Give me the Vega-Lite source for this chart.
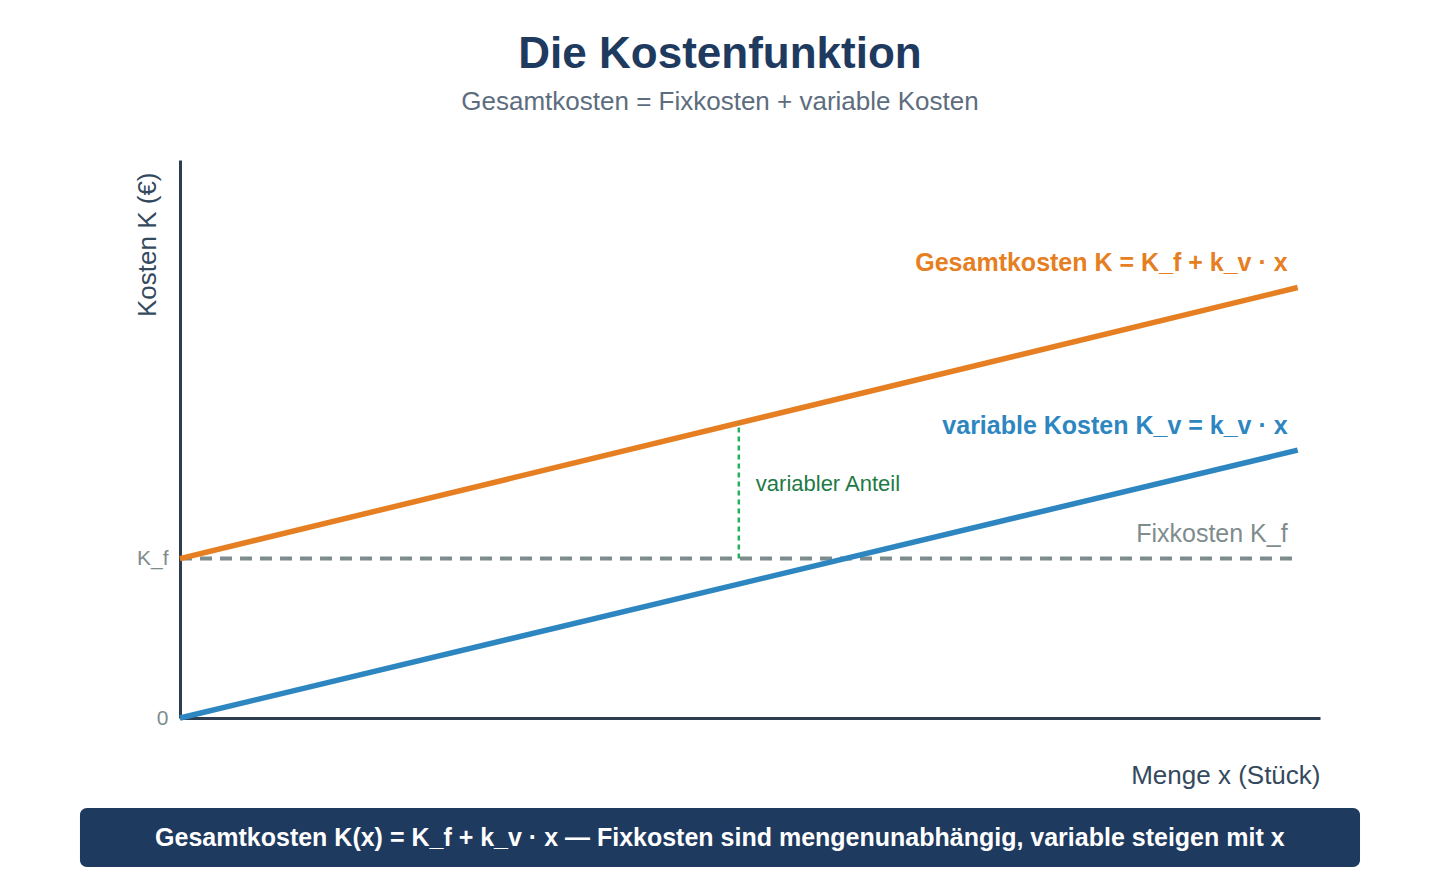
{
  "$schema": "https://vega.github.io/schema/vega-lite/v6.json",
  "width": 1140,
  "height": 558,
  "autosize": {"type": "none"},
  "padding": {"left": 180, "top": 160, "right": 120, "bottom": 162},
  "background": "white",
  "config": {
    "font": "Liberation Sans",
    "view": {"stroke": null}
  },
  "title": {
    "text": "Die Kostenfunktion",
    "subtitle": "Gesamtkosten = Fixkosten + variable Kosten",
    "anchor": "middle",
    "dx": -30,
    "offset": 45,
    "fontSize": 44,
    "fontWeight": "bold",
    "color": "#1f3a5f",
    "subtitleFontSize": 26,
    "subtitleColor": "#5d6d7e",
    "subtitlePadding": 12
  },
  "datasets": {
    "kosten": [
      {"x": 0, "Kf": 100, "Kv": 0, "K": 100},
      {"x": 10, "Kf": 100, "Kv": 168, "K": 270}
    ],
    "anteil": [
      {"x": 5, "von": 100, "bis": 185, "mitte": 147, "label": "variabler Anteil"}
    ],
    "beschriftung": [
      {"x": 10, "y": 270, "label": "Gesamtkosten K = K_f + k_v · x", "reihe": "gesamt"},
      {"x": 10, "y": 168, "label": "variable Kosten K_v = k_v · x", "reihe": "variabel"},
      {"x": 10, "y": 100, "label": "Fixkosten K_f", "reihe": "fix"}
    ],
    "fazit": [
      {"text": "Gesamtkosten K(x) = K_f + k_v · x — Fixkosten sind mengenunabhängig, variable steigen mit x"}
    ]
  },
  "layer": [
    {
      "data": {"name": "fazit"},
      "mark": {"type": "rect", "color": "#1f3a5f", "cornerRadius": 7, "clip": false},
      "encoding": {
        "x": {"datum": -0.895, "type": "quantitative", "scale": {"domain": [0, 10.2], "nice": false, "zero": false},
          "axis": {
            "title": "Menge x (Stück)",
            "values": [],
            "ticks": false,
            "labels": false,
            "grid": false,
            "domainColor": "#2c3e50",
            "domainWidth": 3,
            "titleFontSize": 26,
            "titleFontWeight": "normal",
            "titleColor": "#34495e",
            "titleAnchor": "end",
            "titleAlign": "right",
            "titleBaseline": "middle",
            "titleX": 1140,
            "titleY": 57
          }},
        "x2": {"datum": 10.558},
        "y": {"datum": -56.5, "type": "quantitative", "scale": {"domain": [0, 350], "nice": false, "zero": false},
          "axis": {
            "title": "Kosten K (€)",
            "values": [0, 100],
            "labelExpr": "datum.value === 0 ? '0' : 'K_f'",
            "ticks": false,
            "grid": false,
            "domainColor": "#2c3e50",
            "domainWidth": 3,
            "labelFontSize": 21,
            "labelColor": "#7f8c8d",
            "labelPadding": 12,
            "titleFontSize": 26,
            "titleFontWeight": "normal",
            "titleColor": "#34495e",
            "titleAngle": -90,
            "titleAnchor": "end",
            "titleAlign": "right",
            "titleBaseline": "middle",
            "titleX": -33,
            "titleY": 12
          }},
        "y2": {"datum": -93.5}
      }
    },
    {
      "data": {"name": "fazit"},
      "mark": {"type": "text", "color": "white", "fontSize": 25, "fontWeight": "bold", "align": "center", "baseline": "middle", "clip": false},
      "encoding": {
        "x": {"datum": 4.83, "type": "quantitative"},
        "y": {"datum": -75.5, "type": "quantitative"},
        "text": {"field": "text"}
      }
    },
    {
      "data": {"name": "kosten"},
      "mark": {"type": "line", "color": "#7f8c8d", "strokeWidth": 4, "strokeDash": [12, 8], "strokeCap": "butt"},
      "encoding": {
        "x": {"field": "x", "type": "quantitative"},
        "y": {"field": "Kf", "type": "quantitative"}
      }
    },
    {
      "data": {"name": "kosten"},
      "mark": {"type": "line", "color": "#2e86c1", "strokeWidth": 5.5},
      "encoding": {
        "x": {"field": "x", "type": "quantitative"},
        "y": {"field": "Kv", "type": "quantitative"}
      }
    },
    {
      "data": {"name": "kosten"},
      "mark": {"type": "line", "color": "#e67e22", "strokeWidth": 5.5},
      "encoding": {
        "x": {"field": "x", "type": "quantitative"},
        "y": {"field": "K", "type": "quantitative"}
      }
    },
    {
      "data": {"name": "anteil"},
      "mark": {"type": "rule", "color": "#27ae60", "strokeWidth": 2.5, "strokeDash": [5, 4]},
      "encoding": {
        "x": {"field": "x", "type": "quantitative"},
        "y": {"field": "von", "type": "quantitative"},
        "y2": {"field": "bis"}
      }
    },
    {
      "data": {"name": "anteil"},
      "mark": {"type": "text", "color": "#1e7a45", "fontSize": 22, "align": "left", "baseline": "middle", "dx": 17},
      "encoding": {
        "x": {"field": "x", "type": "quantitative"},
        "y": {"field": "mitte", "type": "quantitative"},
        "text": {"field": "label"}
      }
    },
    {
      "data": {"name": "beschriftung"},
      "transform": [{"filter": "datum.reihe === 'gesamt'"}],
      "mark": {"type": "text", "color": "#e67e22", "fontSize": 25, "fontWeight": "bold", "align": "right", "baseline": "middle", "dx": -10, "dy": -25},
      "encoding": {
        "x": {"field": "x", "type": "quantitative"},
        "y": {"field": "y", "type": "quantitative"},
        "text": {"field": "label"}
      }
    },
    {
      "data": {"name": "beschriftung"},
      "transform": [{"filter": "datum.reihe === 'variabel'"}],
      "mark": {"type": "text", "color": "#2e86c1", "fontSize": 25, "fontWeight": "bold", "align": "right", "baseline": "middle", "dx": -10, "dy": -24},
      "encoding": {
        "x": {"field": "x", "type": "quantitative"},
        "y": {"field": "y", "type": "quantitative"},
        "text": {"field": "label"}
      }
    },
    {
      "data": {"name": "beschriftung"},
      "transform": [{"filter": "datum.reihe === 'fix'"}],
      "mark": {"type": "text", "color": "#7f8c8d", "fontSize": 25, "align": "right", "baseline": "middle", "dx": -10, "dy": -25},
      "encoding": {
        "x": {"field": "x", "type": "quantitative"},
        "y": {"field": "y", "type": "quantitative"},
        "text": {"field": "label"}
      }
    }
  ]
}
